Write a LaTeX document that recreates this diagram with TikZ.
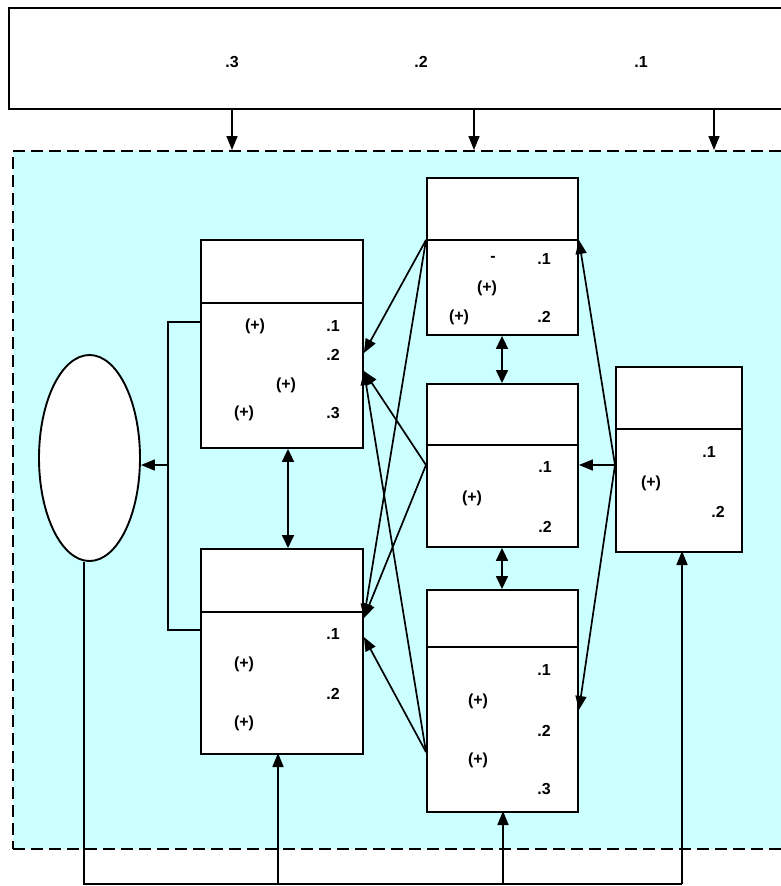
\documentclass[tikz,border=0pt]{standalone}
\usepackage{fontspec}
\setmainfont{Liberation Sans}
\usetikzlibrary{arrows.meta,calc,shapes.geometric}
\definecolor{regcyan}{RGB}{204,255,255}
\begin{document}
\begin{tikzpicture}[x=1pt,y=-1pt,
 box/.style={draw,fill=white,line width=1.9pt,rectangle,inner sep=0pt,anchor=north west},
 region/.style={draw,fill=regcyan,line width=1.9pt,dash pattern=on 12pt off 6pt,rectangle,inner sep=0pt,anchor=north west},
 lbl/.style={font=\fontsize{16}{16}\selectfont\bfseries,inner sep=0pt},
 ln/.style={line width=1.7pt},
 arr/.style={line width=1.7pt,-{Triangle[length=14pt,width=11pt]}},
 darr/.style={line width=1.7pt,{Triangle[length=13pt,width=12pt]}-{Triangle[length=13pt,width=12pt]}}]
\clip (0,0) rectangle (781,886);
\fill[white] (0,0) rectangle (781,886);

% top box
\node[box,minimum width=800pt,minimum height=101pt] (top) at (8,7) {};
\node[lbl] (t3) at (232,62) {.3};
\node[lbl] (t2) at (421,62) {.2};
\node[lbl] (t1) at (641,62) {.1};

% region
\node[region,minimum width=800pt,minimum height=698pt] (reg) at (12,150) {};

\draw[arr] ($(top.south west)+(224,0)$) -- ($(reg.north west)+(220,0)$);
\draw[arr] ($(top.south west)+(466,0)$) -- ($(reg.north west)+(462,0)$);
\draw[arr] ($(top.south west)+(706,0)$) -- ($(reg.north west)+(702,0)$);

% boxes
\node[box,minimum width=162pt,minimum height=208pt] (A) at (200,239) {};
\node[box,minimum width=162pt,minimum height=205pt] (B) at (200,548) {};
\node[box,minimum width=151pt,minimum height=157pt] (C) at (426,177) {};
\node[box,minimum width=151pt,minimum height=163pt] (D) at (426,383) {};
\node[box,minimum width=151pt,minimum height=222pt] (F) at (426,589) {};
\node[box,minimum width=126pt,minimum height=185pt] (E) at (615,366) {};
\node[draw,fill=white,line width=1.9pt,ellipse,minimum width=101pt,minimum height=206pt,inner sep=0pt] (el) at (89.5,458) {};

% dividers
\draw[ln] ($(A.north west)+(0,64)$) -- ($(A.north east)+(0,64)$);
\draw[ln] ($(B.north west)+(0,64)$) -- ($(B.north east)+(0,64)$);
\draw[ln] ($(C.north west)+(0,63)$) coordinate (Cdl) -- ($(C.north east)+(0,63)$) coordinate (Cdr);
\draw[ln] ($(D.north west)+(0,62)$) -- ($(D.north east)+(0,62)$);
\draw[ln] ($(F.north west)+(0,58)$) -- ($(F.north east)+(0,58)$);
\draw[ln] ($(E.north west)+(0,63)$) -- ($(E.north east)+(0,63)$);

% labels A
\node[lbl] (a1) at (255,326) {(+)};
\node[lbl] (a2) at (333,326) {.1};
\node[lbl] (a3) at (333,355) {.2};
\node[lbl] (a4) at (286,385) {(+)};
\node[lbl] (a5) at (244,413) {(+)};
\node[lbl] (a6) at (333,413) {.3};
% labels B
\node[lbl] (b1) at (333,634) {.1};
\node[lbl] (b2) at (244,664) {(+)};
\node[lbl] (b3) at (333,694) {.2};
\node[lbl] (b4) at (244,723) {(+)};
% labels C
\node[lbl] (c1) at (493,259) {-};
\node[lbl] (c2) at (544,259) {.1};
\node[lbl] (c3) at (487,288) {(+)};
\node[lbl] (c4) at (459,317) {(+)};
\node[lbl] (c5) at (544,317) {.2};
% labels D
\node[lbl] (d1) at (545,467) {.1};
\node[lbl] (d2) at (472,498) {(+)};
\node[lbl] (d3) at (545,527) {.2};
% labels E
\node[lbl] (e1) at (709,452) {.1};
\node[lbl] (e2) at (651,483) {(+)};
\node[lbl] (e3) at (718,512) {.2};
% labels F
\node[lbl] (f1) at (544,670) {.1};
\node[lbl] (f2) at (478,701) {(+)};
\node[lbl] (f3) at (544,731) {.2};
\node[lbl] (f4) at (478,760) {(+)};
\node[lbl] (f5) at (544,789) {.3};

% ports
\coordinate (Ain1) at ($(A.north east)+(0,114)$);
\coordinate (Ain2) at ($(A.north east)+(0,132)$);
\coordinate (Bin1) at ($(B.north east)+(0,70)$);
\coordinate (Bin2) at ($(B.north east)+(0,89)$);
\coordinate (Dl) at ($(D.north west)+(0,82)$);
\coordinate (Fl) at ($(F.north west)+(0,163)$);
\coordinate (El) at ($(E.north west)+(0,99)$);
\coordinate (Dr) at ($(D.north east)+(0,82)$);
\coordinate (Fr) at ($(F.north east)+(0,121)$);

% middle -> left
\draw[arr] (Cdl) -- (Ain1);
\draw[arr] (Dl) -- (Ain2);
\draw[arr] (Fl) -- (Ain2);
\draw[arr] (Cdl) -- (Bin1);
\draw[arr] (Dl) -- (Bin1);
\draw[arr] (Fl) -- (Bin2);
% right -> middle
\draw[arr] (El) -- (Cdr);
\draw[arr] (El) -- (Dr);
\draw[arr] (El) -- (Fr);

% double arrows
\draw[darr] ($(A.south west)+(88,0)$) -- ($(B.north west)+(88,0)$);
\draw[darr] ($(C.south west)+(76,0)$) -- ($(D.north west)+(76,0)$);
\draw[darr] ($(D.south west)+(76,0)$) -- ($(F.north west)+(76,0)$);

% left bracket to ellipse
\coordinate (Aw) at ($(A.north west)+(0,83)$);
\coordinate (Bw) at ($(B.north west)+(0,82)$);
\coordinate (J) at ($(el.east)+(28,7)$);
\draw[ln] (Aw) -- ++(-32,0) |- (Bw);
\draw[arr] (J) -- (el.east |- J);

% feedback loop
\coordinate (elb) at ($(el.south)+(-5.5,0)$);
\coordinate (bot) at (84,884);
\draw[ln] (elb) -- (bot) -- (682,884);
\draw[arr] (682,884) -- (682,551);
\draw[arr] (278,884) -- (278,753);
\draw[arr] (503,884) -- (503,811);
\end{tikzpicture}
\end{document}
